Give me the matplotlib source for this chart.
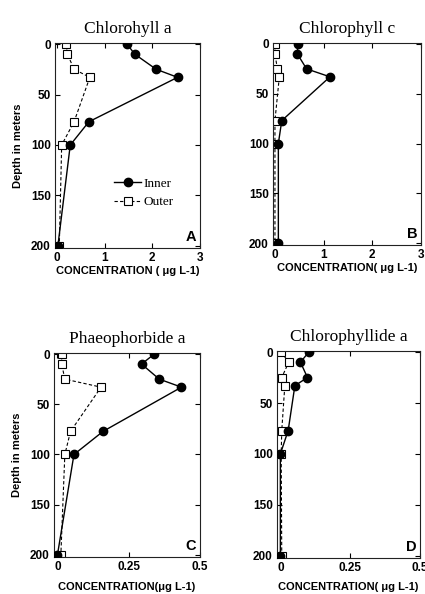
import matplotlib
matplotlib.use("Agg")
import matplotlib.pyplot as plt

# depth levels (m), same for every panel
depth = [0, 10, 25, 33, 77, 100, 200]

# concentrations (ug L-1)
chla_inner = [1.47, 1.63, 2.08, 2.53, 0.67, 0.28, 0.02]
chla_outer = [0.19, 0.22, 0.36, 0.69, 0.36, 0.10, 0.05]
chlc_inner = [0.47, 0.46, 0.65, 1.13, 0.14, 0.07, 0.07]
chlc_outer = [0.00, 0.00, 0.05, 0.09, 0.00, 0.00, 0.00]
phae_inner = [0.34, 0.295, 0.357, 0.435, 0.16, 0.058, 0.0]
phae_outer = [0.015, 0.015, 0.026, 0.153, 0.046, 0.026, 0.012]
chlide_inner = [0.102, 0.072, 0.097, 0.052, 0.028, 0.0, 0.0]
chlide_outer = [0.003, 0.03, 0.005, 0.016, 0.005, 0.003, 0.005]

titles = ["Chlorohyll a", "Chlorophyll c", "Phaeophorbide a", "Chlorophyllide a"]
letters = ["A", "B", "C", "D"]
xlabels = ["CONCENTRATION ( \u03bcg L-1)", "CONCENTRATION( \u03bcg L-1)",
           "CONCENTRATION(\u03bcg L-1)", "CONCENTRATION( \u03bcg L-1)"]
xticks_big = [0, 1, 2, 3]
xticks_small = [0, 0.25, 0.5]
yticks = [0, 50, 100, 150, 200]

W, H = 425, 594
fig = plt.figure(figsize=(W / 100, H / 100), dpi=100)

# axes boxes in pixels: left, top, right, bottom
boxes = [(55, 43, 200, 248), (273, 43, 421, 245),
         (54, 353, 200, 557), (277, 351, 420, 558)]

data = [(chla_inner, chla_outer), (chlc_inner, chlc_outer),
        (phae_inner, phae_outer), (chlide_inner, chlide_outer)]

sans = "Liberation Sans"
serif = "Liberation Serif"

for i, (l, t, r, b) in enumerate(boxes):
    ax = fig.add_axes([l / W, 1 - b / H, (r - l) / W, (b - t) / H])
    inner, outer = data[i]
    ax.plot(outer, depth, color="black", lw=0.8, ls=(0, (3, 2)),
            marker="s", ms=5.2, mfc="white", mec="black", mew=0.8, label="Outer", zorder=2)
    ax.plot(inner, depth, color="black", lw=1.0, ls="-",
            marker="o", ms=6.0, mfc="black", mec="black", label="Inner", zorder=3)

    if i < 2:
        ax.set_xlim(-0.04, 3)
        ax.set_xticks(xticks_big)
        ax.set_xticklabels(["0", "1", "2", "3"])
    else:
        ax.set_xlim(-0.012, 0.49)
        ax.set_xticks(xticks_small)
        ax.set_xticklabels(["0", "0.25", "0.5"])
    ax.set_ylim(202, -1)
    ax.set_yticks(yticks)

    ax.tick_params(direction="in", length=3.5, width=0.8, top=True, right=True,
                   labelsize=8.5, pad=3)
    for lab in ax.get_xticklabels() + ax.get_yticklabels():
        lab.set_fontweight("bold")
        lab.set_fontfamily(sans)
    for sp in ax.spines.values():
        sp.set_linewidth(0.8)
        sp.set_color("#222222")

    ax.set_title(titles[i], fontsize=12.5, fontfamily=serif, pad=7)
    pad = 1 if i < 2 else 6
    ax.set_xlabel(xlabels[i], fontsize=8, fontweight="bold", fontfamily=sans, labelpad=pad)
    if i % 2 == 0:
        ax.set_ylabel("Depth in meters", fontsize=8, fontweight="bold", fontfamily=sans, labelpad=6)
    ax.text(0.975, 0.02, letters[i], transform=ax.transAxes, ha="right", va="bottom",
            fontsize=10.5, fontweight="bold", fontfamily=sans)

    if i == 0:
        h, lbl = ax.get_legend_handles_labels()
        ax.legend(h[::-1], lbl[::-1], loc="upper left", bbox_to_anchor=(0.41, 0.345),
                  frameon=False, handlelength=2.0, handletextpad=0.2, borderpad=0,
                  borderaxespad=0, labelspacing=0.5, prop={"family": serif, "size": 9.5})

fig.savefig("out.png", dpi=100)
